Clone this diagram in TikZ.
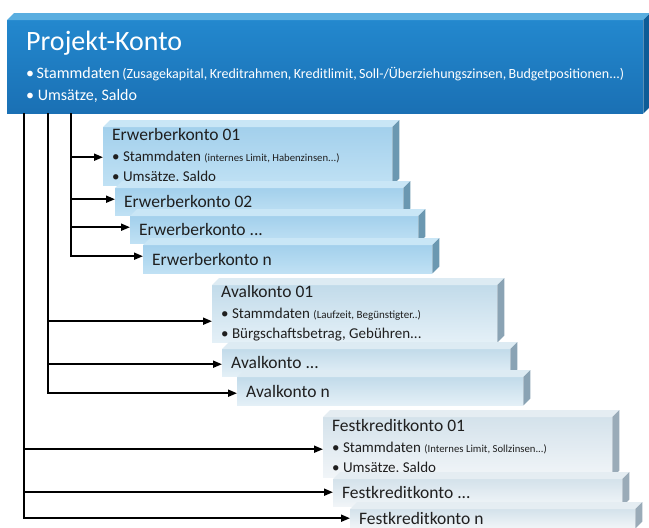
\documentclass[tikz,border=0pt]{standalone}
\usepackage{fontspec}
\setmainfont{Carlito}
\usetikzlibrary{arrows.meta,positioning}
\tikzset{>={Triangle[width=7pt,length=9pt]}}

% colours of the account boxes: front (top/bottom), top face, side face
\definecolor{pkFront}{HTML}{2388CE}
\definecolor{pkFrontUnten}{HTML}{1A70B4}
\definecolor{pkDeck}{HTML}{5AAEE0}
\definecolor{pkSeite}{HTML}{0D5C97}
\definecolor{ewFront}{HTML}{A3D0EC}
\definecolor{ewFrontUnten}{HTML}{C0E1F4}
\definecolor{ewDeck}{HTML}{C9E6F6}
\definecolor{ewSeite}{HTML}{6B98B1}
\definecolor{avFront}{HTML}{C2DBEA}
\definecolor{avFrontUnten}{HTML}{E4F0F7}
\definecolor{avDeck}{HTML}{DDEBF3}
\definecolor{avSeite}{HTML}{8AA3B4}
\definecolor{fkFront}{HTML}{D4E2EB}
\definecolor{fkFrontUnten}{HTML}{F1F5F8}
\definecolor{fkDeck}{HTML}{E5EDF2}
\definecolor{fkSeite}{HTML}{9AABB8}

\newcommand\tiefe{7pt}
\newcommand\titel{\fontsize{17.5}{20.5}\selectfont}
\newcommand\klein{\fontsize{10.7}{20.5}\selectfont}
% top and side face of a box node, #2 = colour group
\newcommand\quader[2]{%
  \fill[#2Deck] (#1.north west) -- ++(\tiefe,\tiefe) -- ([shift={(\tiefe,\tiefe)}]#1.north east) -- (#1.north east) -- cycle;
  \fill[#2Seite] (#1.north east) -- ++(\tiefe,\tiefe) -- ([shift={(\tiefe,\tiefe)}]#1.south east) -- (#1.south east) -- cycle;}

\begin{document}
\begin{tikzpicture}[x=1pt,y=-1pt,
  kbox/.style={anchor=north west, inner ysep=0pt, inner xsep=9pt, align=left,
    text=black!88, font={\fontsize{15}{20.5}\selectfont},
    execute at begin node={\spaceskip=0pt\xspaceskip=0pt\relax}},
  erwerber/.style={kbox, top color=ewFront, bottom color=ewFrontUnten},
  aval/.style={kbox, top color=avFront, bottom color=avFrontUnten},
  fest/.style={kbox, top color=fkFront, bottom color=fkFrontUnten},
  verbinder/.style={line width=1.8pt}]

  \useasboundingbox (0,0) rectangle (649,528);
  \clip (0,0) rectangle (649,528);

  \node[kbox, inner xsep=19pt, text width=598pt, minimum height=93pt,
    top color=pkFront, bottom color=pkFrontUnten, text=white,
    font={\fontsize{16}{22}\selectfont}] (projekt) at (7,20)
    {{\fontsize{28}{28}\selectfont Projekt-Konto}\\[6pt]
     \textbullet\ Stammdaten {\fontsize{14}{22}\selectfont (Zusagekapital, Kreditrahmen, Kreditlimit, Soll-/Überziehungszinsen, Budgetpositionen...)}\\
     \textbullet\ Umsätze, Saldo};
  \quader{projekt}{pk}

  % Erwerberkonten
  \node[erwerber, text width=271pt, minimum height=58pt] (e1) at (103,127)
    {{\titel Erwerberkonto 01}\\
     \textbullet\ Stammdaten {\klein (internes Limit, Habenzinsen...)}\\
     \textbullet\ Umsätze, Saldo};
  \quader{e1}{ew}
  \node[erwerber, text width=270pt, minimum height=27pt, font=\titel] (e2) at (115,188) {Erwerberkonto 02};
  \quader{e2}{ew}
  \node[erwerber, text width=270pt, minimum height=27pt, font=\titel] (e3) at (130,216) {Erwerberkonto ...};
  \quader{e3}{ew}
  \node[erwerber, text width=271pt, minimum height=28pt, font=\titel] (e4) at (143,245) {Erwerberkonto n};
  \quader{e4}{ew}

  % Avalkonten
  \node[aval, text width=267pt, minimum height=57pt] (a1) at (212,285)
    {{\titel Avalkonto 01}\\
     \textbullet\ Stammdaten {\fontsize{11}{20.5}\selectfont (Laufzeit, Begünstigter..)}\\
     \textbullet\ Bürgschaftsbetrag, Gebühren...};
  \quader{a1}{av}
  \node[aval, text width=270pt, minimum height=27pt, font=\titel] (a2) at (222,349) {Avalkonto ...};
  \quader{a2}{av}
  \node[aval, text width=268pt, minimum height=28pt, font=\titel] (a3) at (237,377) {Avalkonto n};
  \quader{a3}{av}

  % Festkreditkonten
  \node[fest, text width=271pt, minimum height=60pt] (f1) at (323,417)
    {{\titel Festkreditkonto 01}\\
     \textbullet\ Stammdaten {\klein (Internes Limit, Sollzinsen...)}\\
     \textbullet\ Umsätze, Saldo};
  \quader{f1}{fk}
  \node[fest, text width=271pt, minimum height=27pt, font=\titel] (f2) at (333,479) {Festkreditkonto ...};
  \quader{f2}{fk}
  \node[fest, text width=267pt, minimum height=19pt, font=\titel] (f3) at (350,509) {Festkreditkonto n};
  \quader{f3}{fk}

  % Verbindungen
  \coordinate (tf) at (24,0);
  \coordinate (ta) at (48,0);
  \coordinate (te) at (71,0);

  \draw[verbinder,->] (projekt.south -| te) |- ([yshift=3pt]e4.west);
  \foreach \ziel/\dy in {e1/-1,e2/2.5,e3/2.5}
    \draw[verbinder,->] ([yshift=\dy pt]\ziel.west -| te) -- ([yshift=\dy pt]\ziel.west);

  \draw[verbinder,->] (projekt.south -| ta) |- ([yshift=-2pt]a3.west);
  \foreach \ziel/\dy in {a1/-7.5,a2/-1.5}
    \draw[verbinder,->] ([yshift=\dy pt]\ziel.west -| ta) -- ([yshift=\dy pt]\ziel.west);

  \draw[verbinder,->] (projekt.south -| tf) |- ([yshift=0.5pt]f3.west);
  \foreach \ziel/\dy in {f1/-2,f2/0.5}
    \draw[verbinder,->] ([yshift=\dy pt]\ziel.west -| tf) -- ([yshift=\dy pt]\ziel.west);

\end{tikzpicture}
\end{document}
